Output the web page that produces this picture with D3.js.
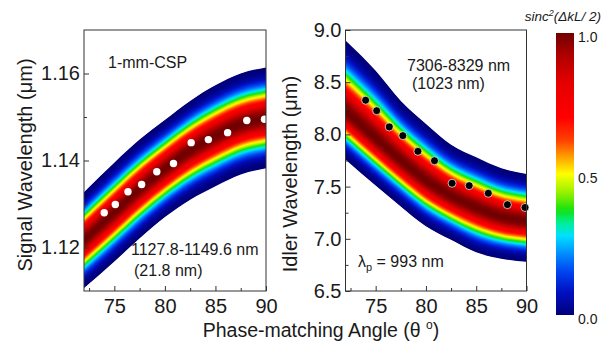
<!DOCTYPE html>
<html>
<head>
<meta charset="utf-8">
<script src="https://cdn.jsdelivr.net/npm/d3@7"></script>
<style>
  body { margin: 0; background: #fff; }
  svg text { font-family: "Liberation Sans", Arial, sans-serif; fill: #1a1a1a; }
</style>
</head>
<body>
<div id="chart"></div>
<script>
// band edges (sinc^2 = 0) and peak (sinc^2 = 1)
var angles = [72, 75, 77.5, 80, 82.5, 85, 87.5, 90];
var signalTop    = [1.1327, 1.1395, 1.1448, 1.1493, 1.1537, 1.1573, 1.1600, 1.1614];
var signalPeak   = [1.1217, 1.1281, 1.1334, 1.1381, 1.1423, 1.1456, 1.1483, 1.1497];
var signalBottom = [1.1107, 1.1168, 1.1221, 1.1270, 1.1310, 1.1341, 1.1368, 1.1382];
var idlerTop     = [8.90, 8.61, 8.32, 8.10, 7.90, 7.78, 7.675, 7.62];
var idlerPeak    = [8.22, 7.96, 7.75, 7.56, 7.41, 7.30, 7.21, 7.17];
var idlerBottom  = [7.76, 7.51, 7.31, 7.12, 6.99, 6.87, 6.81, 6.78];

// measured points
var dotAngles  = [74.0, 75.1, 76.35, 77.7, 79.2, 80.85, 82.6, 84.3, 86.2, 88.1, 89.85];
var signalDots = [1.1280, 1.1299, 1.1328, 1.1345, 1.1374, 1.1393, 1.1441, 1.1448, 1.1464, 1.1492, 1.1495];
var idlerDots  = [8.327, 8.227, 8.071, 7.988, 7.838, 7.748, 7.532, 7.509, 7.436, 7.327, 7.30];

// ticks
var xMajor = [75, 80, 85, 90];
var xMinor = [72.5, 77.5, 82.5, 87.5];
var signalMajor = [1.12, 1.14, 1.16];
var signalMinor = [1.13, 1.15];
var idlerMajor = [6.5, 7.0, 7.5, 8.0, 8.5, 9.0];
var idlerMinor = [6.75, 7.25, 7.75, 8.25, 8.75];
var cbarTicks = [0.0, 0.5, 1.0];

// colour map (Origin-like rainbow)
var cmapStops  = [0, 0.08, 0.15, 0.22, 0.28, 0.33, 0.37, 0.43, 0.5, 0.56, 0.62, 0.7, 0.82, 0.92, 1];
var cmapColors = ["#00007a", "#0010c0", "#0040f0", "#0090ff", "#00e0ff", "#00f090", "#10e010",
                  "#90f000", "#ffff00", "#ffa000", "#ff4000", "#ff0000", "#e60000", "#b00000", "#700000"];
var color = d3.scaleLinear().domain(cmapStops).range(cmapColors).interpolate(d3.interpolateRgb);

function sinc2(u) {
  if (u === 0) return 1;
  var a = Math.PI * u;
  var s = Math.sin(a) / a;
  return s * s;
}

var W = 610, H = 343;
var svg = d3.select("#chart").append("svg").attr("width", W).attr("height", H);

var panels = [
  {x0: 84, x1: 266, yDom: [1.11, 1.17], top: signalTop, peak: signalPeak, bottom: signalBottom,
   dots: signalDots, r: 3.7, dotFill: "#fff", dotStroke: "none", major: signalMajor, minor: signalMinor, fmt: d3.format(".2f")},
  {x0: 345.5, x1: 526.5, yDom: [6.5, 9.0], top: idlerTop, peak: idlerPeak, bottom: idlerBottom,
   dots: idlerDots, r: 4, dotFill: "#000", dotStroke: "#fff", major: idlerMajor, minor: idlerMinor, fmt: d3.format(".1f")}
];
var yTop = 30, yBot = 291;

panels.forEach(function(p, pi) {
  var x = d3.scaleLinear().domain([72, 90]).range([p.x0, p.x1]);
  var y = d3.scaleLinear().domain(p.yDom).range([yBot, yTop]);

  var clipId = "clip" + pi;
  svg.append("clipPath").attr("id", clipId)
    .append("rect").attr("x", p.x0).attr("y", yTop).attr("width", p.x1 - p.x0).attr("height", yBot - yTop);

  var band = svg.append("g").attr("clip-path", "url(#" + clipId + ")");
  var N = 90;
  for (var k = N; k >= 1; k--) {
    var u = k / N;
    var area = d3.area()
      .curve(d3.curveMonotoneX)
      .x(function(d, i) { return x(angles[i]); })
      .y0(function(d, i) { return y(p.peak[i] - u * (p.peak[i] - p.bottom[i])); })
      .y1(function(d, i) { return y(p.peak[i] + u * (p.top[i] - p.peak[i])); });
    band.append("path").datum(angles).attr("d", area).attr("fill", color(sinc2((k - 0.5) / N)));
  }

  // measured points
  svg.append("g").selectAll("circle")
    .data(p.dots)
    .enter().append("circle")
      .attr("cx", function(d, i) { return x(dotAngles[i]); })
      .attr("cy", function(d) { return y(d); })
      .attr("r", p.r)
      .attr("fill", p.dotFill)
      .attr("stroke", p.dotStroke)
      .attr("stroke-width", 0.7);

  // frame
  svg.append("rect")
    .attr("x", p.x0).attr("y", yTop).attr("width", p.x1 - p.x0).attr("height", yBot - yTop)
    .attr("fill", "none").attr("stroke", "#333").attr("stroke-width", 1);

  // x axis (inward ticks)
  var gx = svg.append("g").attr("transform", "translate(0," + yBot + ")")
    .call(d3.axisBottom(x).tickValues(xMajor).tickSizeInner(-5).tickSizeOuter(0).tickPadding(8).tickFormat(d3.format("d")));
  svg.append("g").attr("transform", "translate(0," + yBot + ")")
    .call(d3.axisBottom(x).tickValues(xMinor).tickSizeInner(-3).tickSizeOuter(0).tickFormat(""))
    .select(".domain").remove();
  gx.select(".domain").remove();

  // y axis (inward ticks)
  var gy = svg.append("g").attr("transform", "translate(" + p.x0 + ",0)")
    .call(d3.axisLeft(y).tickValues(p.major).tickSizeInner(-5).tickSizeOuter(0).tickPadding(4).tickFormat(p.fmt));
  svg.append("g").attr("transform", "translate(" + p.x0 + ",0)")
    .call(d3.axisLeft(y).tickValues(p.minor).tickSizeInner(-3).tickSizeOuter(0).tickFormat(""))
    .select(".domain").remove();
  gy.select(".domain").remove();

  svg.selectAll(".tick line").attr("stroke", "#333");
  [gx, gy].forEach(function(g) {
    g.attr("font-size", null).attr("font-family", null);
    g.selectAll("text").style("font-size", "20px");
  });
});

// axis titles
svg.append("text")
  .attr("transform", "translate(32,165) rotate(-90)")
  .attr("text-anchor", "middle").style("font-size", "20px")
  .text("Signal Wavelength (\u03bcm)");
svg.append("text")
  .attr("transform", "translate(297,174) rotate(-90)")
  .attr("text-anchor", "middle").style("font-size", "20px")
  .text("Idler Wavelength (\u03bcm)");
var xt = svg.append("text").attr("x", 321).attr("y", 337)
  .attr("text-anchor", "middle").style("font-size", "19.5px");
xt.append("tspan").text("Phase-matching Angle (\u03b8 ");
xt.append("tspan").attr("dy", -8).style("font-size", "12px").text("o");
xt.append("tspan").attr("dy", 8).text(")");

// annotations
function note(tx, ty, str) {
  return svg.append("text").attr("x", tx).attr("y", ty).style("font-size", "16px").text(str);
}
note(108, 68, "1-mm-CSP");
note(131, 255, "1127.8-1149.6 nm");
note(134, 276, "(21.8 nm)");
note(407, 71, "7306-8329 nm");
note(412, 89, "(1023 nm)");
var lp = svg.append("text").attr("x", 358).attr("y", 267).style("font-size", "16px");
lp.append("tspan").text("\u03bb");
lp.append("tspan").attr("dy", 4).style("font-size", "11px").text("p");
lp.append("tspan").attr("dy", -4).text(" = 993 nm");

// colour bar
var cbX = 556, cbW = 18, cbTop = 33, cbBot = 315;
var cb = d3.scaleLinear().domain([0, 1]).range([cbBot, cbTop]);
var grad = svg.append("defs").append("linearGradient").attr("id", "cbGrad")
  .attr("x1", 0).attr("y1", 1).attr("x2", 0).attr("y2", 0);
d3.range(0, 1.0001, 0.02).forEach(function(v) {
  grad.append("stop").attr("offset", v).attr("stop-color", color(v));
});
svg.append("rect").attr("x", cbX).attr("y", cbTop).attr("width", cbW).attr("height", cbBot - cbTop)
  .attr("fill", "url(#cbGrad)");
svg.append("g").selectAll("text")
  .data(cbarTicks)
  .enter().append("text")
    .attr("x", cbX + cbW + 4)
    .attr("y", function(d) { return cb(d) + 4; })
    .attr("dy", "0.35em")
    .style("font-size", "14px")
    .text(d3.format(".1f"));
var ct = svg.append("text").attr("x", 601).attr("y", 21).attr("text-anchor", "end")
  .style("font-size", "13.5px").style("font-style", "italic");
ct.append("tspan").text("sinc");
ct.append("tspan").attr("dy", -5).style("font-size", "9px").text("2");
ct.append("tspan").attr("dy", 5).text("(\u0394kL/ 2)");
</script>
</body>
</html>
